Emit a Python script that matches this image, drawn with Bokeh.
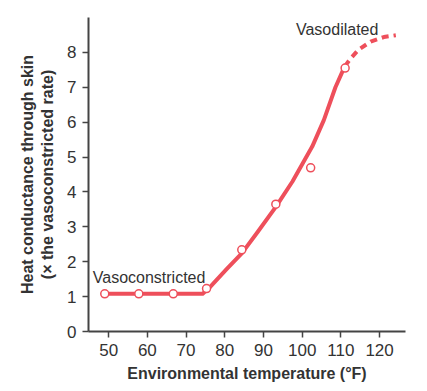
from bokeh.plotting import figure
from bokeh.embed import file_html
from bokeh.resources import INLINE
from bokeh.models import Range1d, FixedTicker, Label

# measured points
temp_pts = [49, 57.8, 66.7, 75.3, 84.4, 93.2, 102.2, 111.1]
cond_pts = [1.08, 1.08, 1.08, 1.23, 2.34, 3.65, 4.69, 7.55]

# solid fitted curve
curve_x = [49, 74.3, 76, 80.6, 84.4, 88.5, 93.2, 97.5, 102.6, 105.6, 108.6, 111.0]
curve_y = [1.08, 1.08, 1.25, 1.8, 2.24, 2.85, 3.57, 4.3, 5.3, 6.06, 7.0, 7.6]

# dashed extrapolation
dash_x = [111.0, 112.5, 114.5, 117.7, 121.1, 124.2]
dash_y = [7.6, 7.82, 8.07, 8.31, 8.44, 8.49]

x_ticks = [50, 60, 70, 80, 90, 100, 110, 120]
y_ticks = [0, 1, 2, 3, 4, 5, 6, 7, 8]

RED = "#EE4F5B"
TXT = "#333333"
FONT = "Liberation Sans"

p = figure(frame_width=317, frame_height=314, output_backend="svg", toolbar_location=None,
           x_range=Range1d(44.8, 126.7), y_range=Range1d(0, 9.0),
           min_border_left=88, min_border_top=17, min_border_right=8, min_border_bottom=45)
p.outline_line_color = None
p.grid.visible = False
p.background_fill_color = "white"

for ax in (p.xaxis[0], p.yaxis[0]):
    ax.axis_line_width = 2
    ax.axis_line_color = "#444444"
    ax.major_tick_line_color = "#444444"
    ax.major_tick_line_width = 1.5
    ax.major_tick_out = 6
    ax.major_tick_in = 0
    ax.minor_tick_line_color = None
    ax.major_label_text_font = FONT
    ax.major_label_text_font_size = "17px"
    ax.major_label_text_color = TXT
    ax.axis_label_text_font = FONT
    ax.axis_label_text_font_style = "bold"
    ax.axis_label_text_font_size = "16px"
    ax.axis_label_text_color = TXT

p.xaxis.ticker = FixedTicker(ticks=x_ticks)
p.yaxis.ticker = FixedTicker(ticks=y_ticks)
p.xaxis.axis_label = "Environmental temperature (°F)"
p.yaxis.axis_label = "Heat conductance through skin\n(× the vasoconstricted rate)"
p.xaxis.axis_label_standoff = 6
p.yaxis.axis_label_standoff = 8
p.yaxis.major_label_standoff = 6
p.xaxis.major_label_standoff = 6

p.line(curve_x, curve_y, line_color=RED, line_width=4, line_join="round", line_cap="round")
p.line(dash_x, dash_y, line_color=RED, line_width=4, line_dash="7 5")
p.scatter(temp_pts, cond_pts, marker="circle", size=8, fill_color="white",
          line_color=RED, line_width=1.5)

p.add_layout(Label(x=45.9, y=1.56, text="Vasoconstricted", text_font=FONT,
                   text_font_size="16px", text_color=TXT, text_baseline="middle"))
p.add_layout(Label(x=98.4, y=8.66, text="Vasodilated", text_font=FONT,
                   text_font_size="16px", text_color=TXT, text_baseline="middle"))

open("out.html", "w").write(file_html(p, INLINE))
